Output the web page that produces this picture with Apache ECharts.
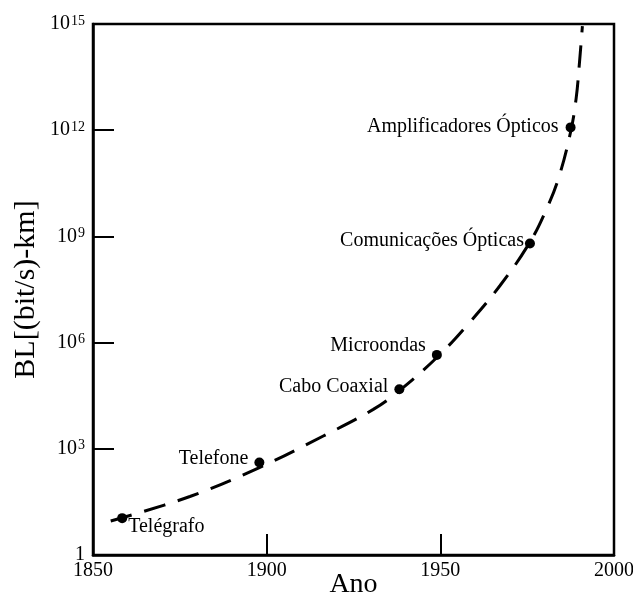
<!DOCTYPE html>
<html>
<head>
<meta charset="utf-8">
<style>
  html, body { margin: 0; padding: 0; background: #fff; }
  #chart { width: 633px; height: 604px; }
</style>
<script src="https://cdn.jsdelivr.net/npm/echarts@6/dist/echarts.min.js"></script>
</head>
<body>
<div id="chart"></div>
<script>
// curva tracejada
const curveYears = [1855.1, 1877.9, 1897.9, 1916.3, 1930.7, 1938.2, 1949.0, 1957.6, 1967.2, 1975.8, 1980.6, 1984.0, 1987.5, 1989.1, 1990.0, 1990.9];
const curveBL = [9.1, 45, 295, 2.3e3, 1.3e4, 4.4e4, 3.8e5, 3.0e6, 4.1e7, 6.9e8, 6.0e9, 4.3e10, 8.9e11, 7.9e12, 6.9e13, 8.7e14];

// marcos tecnológicos
const pointNames = ['Telégrafo', 'Telefone', 'Cabo Coaxial', 'Microondas', 'Comunicações Ópticas', 'Amplificadores Ópticos'];
const pointYears = [1858.4, 1897.9, 1938.2, 1949.0, 1975.8, 1987.5];
const pointBL = [11, 410, 4.8e4, 4.5e5, 6.3e8, 1.2e12];

const xTicks = [1850, 1900, 1950, 2000];

// posição dos rótulos de cada ponto
const labelPlace = [
  { position: 'right', distance: 1, offset: [0, 9] },
  { position: 'left', distance: 6, offset: [0, -4] },
  { position: 'left', distance: 6, offset: [0, -3] },
  { position: 'left', distance: 6, offset: [0, -9] },
  { position: 'left', distance: 1, offset: [0, -3] },
  { position: 'left', distance: 7, offset: [0, -1] },
];

const font = 'Liberation Serif';
const chart = echarts.init(document.getElementById('chart'));

const option = {
  animation: false,
  backgroundColor: '#fff',
  grid: {
    left: 93, right: 19, top: 24, bottom: 49,
    outerBoundsMode: 'none',
    show: true,
    borderColor: '#000',
    borderWidth: 2.5,
  },
  xAxis: {
    type: 'value',
    min: xTicks[0],
    max: xTicks[xTicks.length - 1],
    interval: 50,
    name: 'Ano',
    nameLocation: 'middle',
    nameGap: 16,
    nameMoveOverlap: false,
    nameTextStyle: { fontFamily: font, fontSize: 28, color: '#000' },
    axisLine: { lineStyle: { color: '#000', width: 2.5 } },
    axisTick: { inside: true, length: 21, lineStyle: { color: '#000', width: 2 } },
    axisLabel: {
      fontFamily: font, fontSize: 20, color: '#000', margin: 6,
      formatter: v => String(v),
    },
    splitLine: { show: false },
  },
  yAxis: {
    type: 'log',
    logBase: 1000,
    min: 1,
    max: 1e15,
    interval: 1,
    name: 'BL[(bit/s)-km]',
    nameLocation: 'middle',
    nameGap: 52,
    nameMoveOverlap: false,
    nameTextStyle: { fontFamily: font, fontSize: 30, color: '#000' },
    axisLine: { lineStyle: { color: '#000', width: 2.5 } },
    axisTick: { inside: true, length: 21, lineStyle: { color: '#000', width: 2 } },
    splitLine: { show: false },
    axisLabel: {
      margin: 8,
      color: '#000',
      fontFamily: font,
      formatter: function (v) {
        const e = Math.round(Math.log10(v));
        if (e === 0) return '{b|1}';
        return '{b|10}{sup|' + e + '}';
      },
      rich: {
        b: { fontFamily: font, fontSize: 20, lineHeight: 20, verticalAlign: 'bottom', color: '#000' },
        sup: { fontFamily: font, fontSize: 14, lineHeight: 14, padding: [0, 0, 9, 1], verticalAlign: 'top', color: '#000' },
      },
    },
  },
  series: [
    {
      type: 'line',
      data: curveYears.map((x, i) => [x, curveBL[i]]),
      smooth: 0.4,
      showSymbol: false,
      lineStyle: { color: '#000', width: 3, type: [22, 13] },
      z: 2,
    },
    {
      type: 'scatter',
      symbol: 'circle',
      symbolSize: 10,
      itemStyle: { color: '#000', opacity: 1 },
      z: 3,
      data: pointYears.map((x, i) => ({
        value: [x, pointBL[i]],
        name: pointNames[i],
        label: Object.assign({
          show: true,
          formatter: pointNames[i],
          fontFamily: font,
          fontSize: 20,
          color: '#000',
        }, labelPlace[i]),
      })),
    },
  ],
};

chart.setOption(option);
</script>
</body>
</html>
